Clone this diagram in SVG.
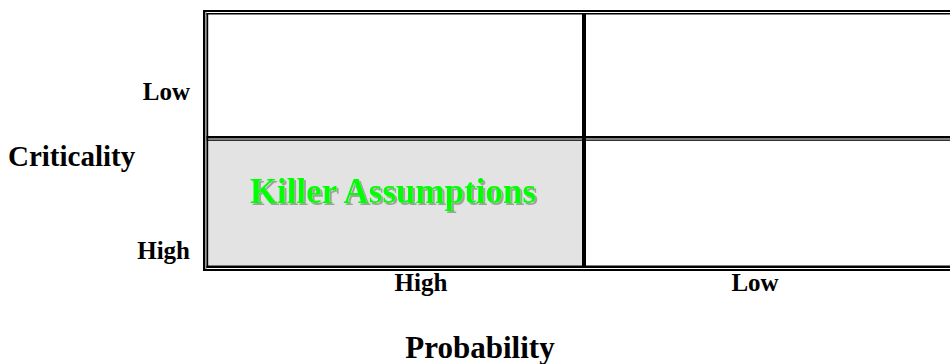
<svg xmlns="http://www.w3.org/2000/svg" width="950" height="364" viewBox="0 0 950 364">
<defs>
  <filter id="shadow" x="-5%" y="-20%" width="110%" height="150%">
    <feFlood flood-color="#a0a0a0" result="c"/>
    <feComposite in="c" in2="SourceAlpha" operator="in" result="s"/>
    <feOffset in="s" dx="2" dy="2" result="o"/>
    <feMerge><feMergeNode in="o"/><feMergeNode in="SourceGraphic"/></feMerge>
  </filter>
</defs>
<style>
  .ln { fill: #000; }
  .lbl { font-family: "Liberation Serif", "Times New Roman", serif; font-weight: bold; fill: #000; }
  .killer { font-family: "Liberation Serif", "Times New Roman", serif; font-weight: bold; font-size: 35px; text-anchor: middle; fill: #00ff00; filter: url(#shadow); }
</style>
<rect width="950" height="364" fill="#fff"/>
<g id="matrix">
  <g id="cell-high-high">
    <rect x="208.2" y="140.8" width="373.8" height="124.7" fill="#e3e3e3"/>
    <text class="killer" x="393" y="203">Killer Assumptions</text>
  </g>
  <g id="frame">
    <rect x="205" y="12" width="1.5" height="257" fill="#9a9a9a"/>
    <rect class="ln" x="203" y="10" width="747" height="2"/>
    <rect class="ln" x="206.5" y="13" width="743.5" height="1.5"/>
    <rect class="ln" x="203" y="10" width="2" height="261"/>
    <rect class="ln" x="206.5" y="13" width="1.7" height="255"/>
    <rect class="ln" x="206.5" y="136" width="743.5" height="2.5"/>
    <rect class="ln" x="206.5" y="139.5" width="743.5" height="1.3"/>
    <rect class="ln" x="206.5" y="265.5" width="743.5" height="2.5"/>
    <rect class="ln" x="203" y="269" width="747" height="2"/>
    <rect class="ln" x="582" y="13" width="4" height="255"/>
  </g>
</g>
<g id="labels">
  <text class="lbl" x="190" y="100" font-size="25" text-anchor="end">Low</text>
  <text class="lbl" x="190" y="259" font-size="25" text-anchor="end">High</text>
  <text class="lbl" x="8" y="166" font-size="29">Criticality</text>
  <text class="lbl" x="421" y="291" font-size="25" text-anchor="middle">High</text>
  <text class="lbl" x="755" y="291" font-size="25" text-anchor="middle">Low</text>
  <text class="lbl" x="480" y="358" font-size="31" text-anchor="middle">Probability</text>
</g>
</svg>
